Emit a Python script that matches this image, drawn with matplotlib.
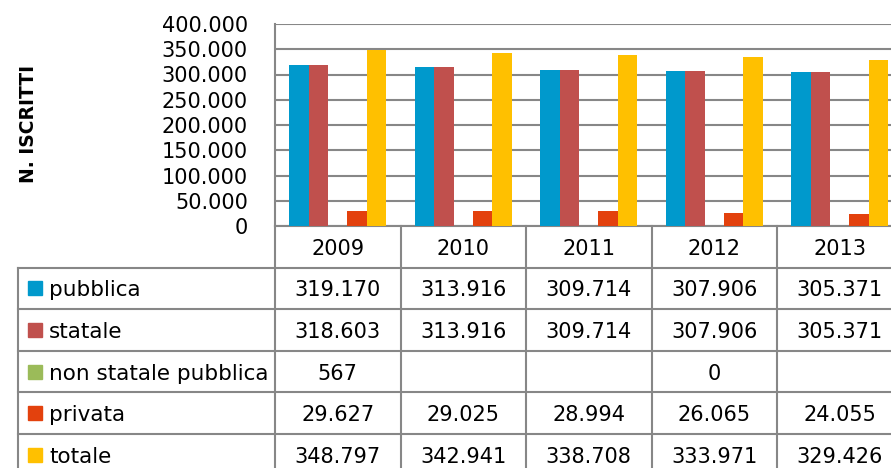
import matplotlib
matplotlib.use("Agg")
import matplotlib.pyplot as plt
import numpy as np

years = ["2009", "2010", "2011", "2012", "2013"]
series_names = ["pubblica", "statale", "non statale pubblica", "privata", "totale"]
pubblica = [319170, 313916, 309714, 307906, 305371]
statale = [318603, 313916, 309714, 307906, 305371]
non_statale = [567, None, None, 0, None]
privata = [29627, 29025, 28994, 26065, 24055]
totale = [348797, 342941, 338708, 333971, 329426]
colors = ["#0099CC", "#C0504D", "#9BBB59", "#E3410D", "#FFC000"]
yticks = [0, 50000, 100000, 150000, 200000, 250000, 300000, 350000, 400000]

all_series = [pubblica, statale, non_statale, privata, totale]

FONT = "DejaVu Sans"
FS = 15
GRID = "#878787"
LW = 1.5

W, H = 891, 468
fig = plt.figure(figsize=(W / 100, H / 100), dpi=100)

# pixel layout
ax_left, col_w = 275, 125.5
ax_top, ax_bot = 24, 226
ax_right = ax_left + 5 * col_w
ax = fig.add_axes([ax_left / W, 1 - ax_bot / H, (ax_right - ax_left) / W, (ax_bot - ax_top) / H])

def fmt(v):
    return f"{v:,}".replace(",", ".")

x = np.arange(len(years))
bw = 0.155
for i, (s, c) in enumerate(zip(all_series, colors)):
    vals = [0 if v is None else v for v in s]
    ax.bar(x + (i - 2) * bw, vals, width=bw, color=c, zorder=3)

ax.set_xlim(-0.5, len(years) - 0.5)
ax.set_ylim(0, 400000)
ax.set_yticks(yticks)
ax.set_yticklabels([fmt(v) for v in yticks], fontsize=FS, family=FONT)
ax.tick_params(axis="y", length=0, pad=19.5)
ax.set_xticks([])
ax.grid(axis="y", color=GRID, linewidth=LW, zorder=0)
for sp in ["top", "right"]:
    ax.spines[sp].set_visible(False)
for sp in ["left", "bottom"]:
    ax.spines[sp].set_color(GRID)
    ax.spines[sp].set_linewidth(LW)

fig.text(29 / W, 1 - 124 / H, "N. ISCRITTI", rotation=90, ha="center", va="center",
         fontsize=13.5, fontweight="bold", family=FONT)

# data table axes sharing the category scale
tab_left = 18
row_h = 41.6
nrows = len(series_names) + 1
tab_bottom_px = ax_bot + nrows * row_h
tx0 = -0.5 - (ax_left - tab_left) / col_w
tax = fig.add_axes([tab_left / W, 1 - tab_bottom_px / H, (ax_right - tab_left) / W, nrows * row_h / H])
tax.set_xlim(tx0, len(years) - 0.5)
tax.set_ylim(nrows, 0)
tax.axis("off")

for k in range(len(years) + 1):
    tax.plot([k - 0.5, k - 0.5], [0, nrows], color=GRID, lw=LW, clip_on=False)
tax.plot([tx0, tx0], [1, nrows], color=GRID, lw=LW, clip_on=False)
for r in range(1, nrows + 1):
    tax.plot([tx0, len(years) - 0.5], [r, r], color=GRID, lw=LW, clip_on=False)

for j, yv in enumerate(years):
    tax.text(j, 0.5, yv, ha="center", va="center_baseline", fontsize=FS, family=FONT)

sq_x = tx0 + (35 - tab_left) / col_w
lab_x = tx0 + (49 - tab_left) / col_w
for r, (name, s, c) in enumerate(zip(series_names, all_series, colors)):
    yc = r + 1.5
    tax.plot([sq_x], [yc], marker="s", markersize=10, color=c, clip_on=False)
    tax.text(lab_x, yc, name, ha="left", va="center_baseline", fontsize=15.5, family=FONT)
    for j, v in enumerate(s):
        if v is not None:
            tax.text(j, yc, fmt(v), ha="center", va="center_baseline", fontsize=FS, family=FONT)

fig.savefig("out.png", dpi=100)
